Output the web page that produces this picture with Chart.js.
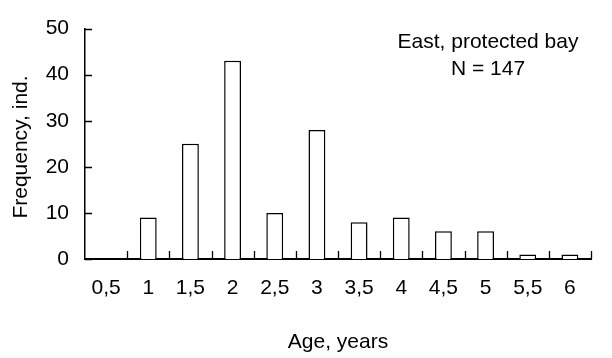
<!DOCTYPE html>
<html>
<head>
<meta charset="utf-8">
<script src="https://cdn.jsdelivr.net/npm/chart.js@4"></script>
<style>
  body { margin: 0; background: #fff; }
  #wrap { width: 612px; height: 358px; }
</style>
</head>
<body>
<div id="wrap"><canvas id="age-chart" width="612" height="358"></canvas></div>
<script>
const ages = ["0,5", "1", "1,5", "2", "2,5", "3", "3,5", "4", "4,5", "5", "5,5", "6"];
const counts = [0, 9, 25, 43, 10, 28, 8, 9, 6, 6, 1, 1];
const yTicks = [0, 10, 20, 30, 40, 50];
const xTitle = "Age, years";
const yTitle = "Frequency, ind.";
const noteLines = ["East, protected bay", "N = 147"];

const FONT = "'Liberation Sans', Arial, sans-serif";

// inward tick marks, y title and the note in the corner
const extras = {
    id: "extras",
    afterDraw(chart) {
        const ctx = chart.ctx;
        const x = chart.scales.x;
        const y = chart.scales.y;
        ctx.save();
        ctx.strokeStyle = "#000";
        ctx.lineWidth = 1.3;
        ctx.beginPath();
        const step = (x.right - x.left) / ages.length;
        for (let i = 1; i <= ages.length; i++) {
            const px = Math.round(x.left + i * step) + 0.5;
            ctx.moveTo(px, y.bottom);
            ctx.lineTo(px, y.bottom - 8);
        }
        yTicks.forEach(v => {
            const py = Math.round(y.getPixelForValue(v)) + 0.5;
            ctx.moveTo(y.right, py);
            ctx.lineTo(y.right + 7, py);
        });
        ctx.stroke();

        ctx.fillStyle = "#000";
        ctx.font = "21px " + FONT;
        ctx.textAlign = "center";
        ctx.textBaseline = "middle";
        ctx.fillText(noteLines[0], 488, 42);
        ctx.fillText(noteLines[1], 488, 69);

        ctx.translate(21, 147);
        ctx.rotate(-Math.PI / 2);
        ctx.fillText(yTitle, 0, 0);
        ctx.restore();
    }
};

new Chart(document.querySelector("#age-chart"), {
    type: "bar",
    data: {
        labels: ages,
        datasets: [{
            data: counts,
            backgroundColor: "#fff",
            borderColor: "#000",
            borderWidth: c => (c.raw === 0 ? 0 : 1.5), // no outline for empty class
            barPercentage: 0.4,
            categoryPercentage: 1
        }]
    },
    options: {
        responsive: false,
        animation: false,
        layout: {padding: {top: 22, right: 21, left: 0, bottom: 0}},
        plugins: {legend: {display: false}, tooltip: {enabled: false}},
        scales: {
            x: {
                grid: {display: false, drawTicks: false},
                border: {color: "#000", width: 2},
                ticks: {color: "#000", font: {family: FONT, size: 21}, padding: 17, maxRotation: 0, autoSkip: false},
                title: {display: true, text: xTitle, color: "#000", font: {family: FONT, size: 21}, padding: {top: 0, bottom: 3}},
                afterFit(scale) { scale.height = 99; }
            },
            y: {
                min: 0,
                max: 50,
                afterBuildTicks(scale) { scale.ticks = yTicks.map(v => ({value: v})); },
                grid: {display: false, drawTicks: false},
                border: {color: "#000", width: 1.5},
                ticks: {color: "#000", font: {family: FONT, size: 21}, padding: 16},
                afterFit(scale) { scale.width = 85; }
            }
        }
    },
    plugins: [extras]
});
</script>
</body>
</html>
